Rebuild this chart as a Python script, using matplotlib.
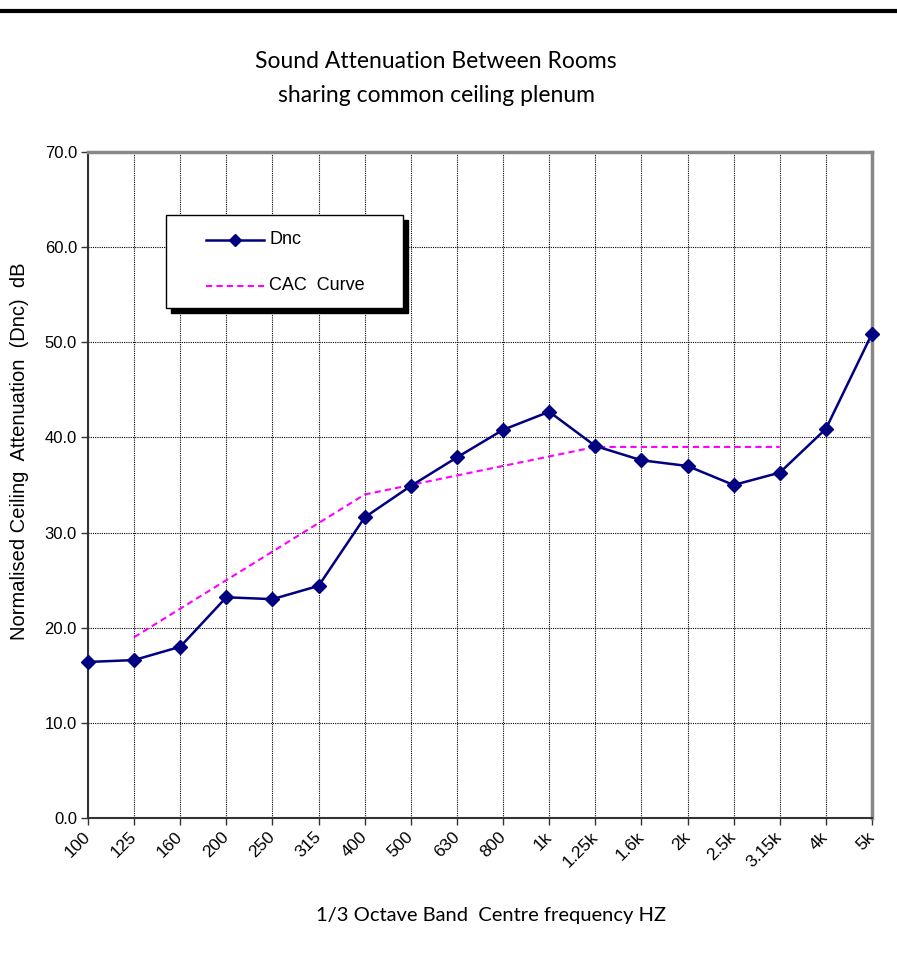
import matplotlib
matplotlib.use("Agg")
import matplotlib.pyplot as plt
from matplotlib.patches import Rectangle
from matplotlib.lines import Line2D

freqs = ["100", "125", "160", "200", "250", "315", "400", "500", "630", "800",
         "1k", "1.25k", "1.6k", "2k", "2.5k", "3.15k", "4k", "5k"]
dnc = [16.4, 16.6, 18.0, 23.2, 23.0, 24.4, 31.6, 34.9, 37.9, 40.8,
       42.7, 39.1, 37.6, 37.0, 35.0, 36.3, 40.9, 50.9]
cac_freqs = ["125", "160", "200", "250", "315", "400", "500", "630", "800",
             "1k", "1.25k", "1.6k", "2k", "2.5k", "3.15k"]
cac = [19, 22, 25, 28, 31, 34, 35, 36, 37, 38, 39, 39, 39, 39, 39]

plt.rcParams['font.family'] = ['Liberation Sans', 'DejaVu Sans']

fig = plt.figure(figsize=(8.97, 9.58), dpi=100)
ax = fig.add_axes([88/897, 1-818/958, (872-88)/897, (818-152)/958])

x = list(range(len(freqs)))
cx = [freqs.index(f) for f in cac_freqs]

ax.plot(cx, cac, color='#ff00ff', lw=1.5, ls=(0, (3, 2)), zorder=3)
ax.plot(x, dnc, color='#000080', lw=1.8, marker='D', ms=7, zorder=4, clip_on=False)

ax.set_xlim(0, len(freqs)-1)
ax.set_ylim(0, 70)
ax.set_yticks(range(0, 71, 10))
ax.set_yticklabels([f"{v:.1f}" for v in range(0, 71, 10)], fontsize=12)
ax.set_xticks(x)
ax.set_xticklabels(freqs, rotation=45, ha='right', va='center', rotation_mode='anchor', fontsize=12.5)
ax.tick_params(axis='both', direction='out', length=5, width=1, color='#333333')
ax.tick_params(axis='x', pad=7)
ax.tick_params(axis='y', pad=3)

ax.grid(True, color='black', ls=(0, (1, 1)), lw=0.8)
ax.set_axisbelow(True)

for s in ['left', 'bottom']:
    ax.spines[s].set_color('#333333')
    ax.spines[s].set_linewidth(1.5)
for s in ['top', 'right']:
    ax.spines[s].set_color('#888888')
    ax.spines[s].set_linewidth(2.5)

ax.set_ylabel("Normalised Ceiling  Attenuation  (Dnc)  dB", fontsize=14.5)
ax.yaxis.set_label_coords(-0.075, 0.55)

fig.text(436/897, 1-62/958, "Sound Attenuation Between Rooms", ha='center', va='center',
         fontsize=16.5, family=['Lato', 'DejaVu Sans'])
fig.text(436/897, 1-95/958, "sharing common ceiling plenum", ha='center', va='center',
         fontsize=16.5, family=['Lato', 'DejaVu Sans'])
fig.text(491/897, 1-916/958, "1/3 Octave Band  Centre frequency HZ", ha='center', va='center',
         fontsize=14.5, family=['Lato', 'DejaVu Sans'])

# top rule
fig.add_artist(Line2D([0, 1], [1-11/958, 1-11/958], color='black', lw=3, transform=fig.transFigure))

# legend box with shadow
def fx(px):
    return px/897
def fy(py):
    return 1-py/958
shadow = Rectangle((fx(171), fy(313)), fx(403)-fx(166), fy(215)-fy(308), transform=fig.transFigure,
                   facecolor='black', edgecolor='black', zorder=5)
box = Rectangle((fx(166), fy(308)), fx(403)-fx(166), fy(215)-fy(308), transform=fig.transFigure,
                facecolor='white', edgecolor='black', lw=1, zorder=6)
fig.add_artist(shadow)
fig.add_artist(box)
fig.add_artist(Line2D([fx(206), fx(264)], [fy(240), fy(240)], color='#000080', lw=1.8,
                      transform=fig.transFigure, zorder=7))
fig.add_artist(Line2D([fx(235)], [fy(240)], color='#000080', marker='D', ms=6,
                      transform=fig.transFigure, zorder=7))
fig.add_artist(Line2D([fx(206), fx(264)], [fy(286), fy(286)], color='#ff00ff', lw=1.5, ls=(0, (3, 2)),
                      transform=fig.transFigure, zorder=7))
fig.text(fx(269), fy(240), "Dnc", ha='left', va='center', fontsize=13, zorder=8)
fig.text(fx(269), fy(286), "CAC  Curve", ha='left', va='center', fontsize=13, zorder=8)

fig.savefig("out.png", dpi=100)
